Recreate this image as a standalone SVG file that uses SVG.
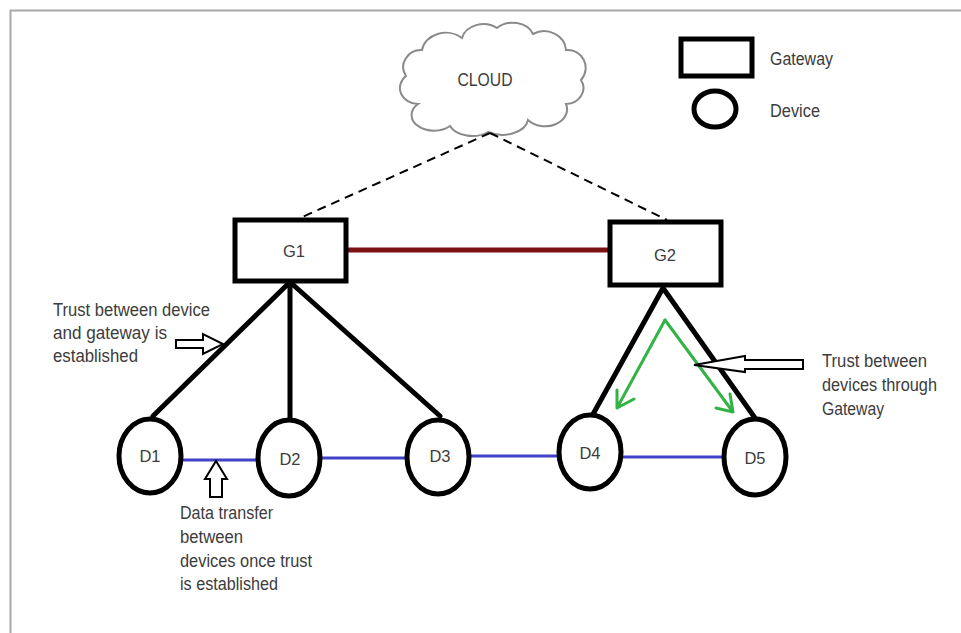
<svg xmlns="http://www.w3.org/2000/svg" width="961" height="633" viewBox="0 0 961 633">
  <style>
    .lbl { font-family: "Liberation Sans", Arial, sans-serif; fill: #3c3c3c; }
    .note { font-size: 17.5px; }
    .node-lbl { font-size: 16.5px; text-anchor: middle; }
    .box { fill: #fff; stroke: #000; stroke-width: 5; }
    .dev { fill: #fff; stroke: #000; stroke-width: 5; }
    .link { stroke: #000; stroke-width: 5; stroke-linecap: round; fill: none; }
    .data { stroke: #4040c8; stroke-width: 3; fill: none; }
    .dash { stroke: #000; stroke-width: 2; stroke-dasharray: 9 6; fill: none; }
    .hollow { fill: #fff; stroke: #000; stroke-width: 2; stroke-linejoin: miter; }
    .green { stroke: #33b345; stroke-width: 3; fill: none; stroke-linecap: round; stroke-linejoin: round; }
  </style>

  <rect x="0" y="0" width="961" height="633" fill="#fff"/>
  <!-- frame -->
  <path d="M10.5 633 V10.5 H961" fill="none" stroke="#a8a8a8" stroke-width="2"/>

  <!-- cloud -->
  <g id="cloud">
    <path d="M418 104 A18 16 0 0 1 406 76 A18 17 0 0 1 422 50 A24 20 0 0 1 462 38 A22 18 0 0 1 497 28 A22 18 0 0 1 533 34 A22 20 0 0 1 566 50 A18 18 0 0 1 581 80 A18 16 0 0 1 566 104 A22 17 0 0 1 528 120 A26 17 0 0 1 488 132 A24 16 0 0 1 450 126 A20 14 0 0 1 418 104 Z" fill="#fff" stroke="#8a8a8a" stroke-width="2"/>
    <text class="lbl" x="485" y="86" font-size="19" text-anchor="middle" textLength="55" lengthAdjust="spacingAndGlyphs">CLOUD</text>
  </g>

  <!-- legend -->
  <g id="legend">
    <rect class="box" x="681" y="39" width="71" height="37" stroke-width="4"/>
    <text class="lbl note" x="770" y="65" textLength="63" lengthAdjust="spacingAndGlyphs">Gateway</text>
    <ellipse class="dev" cx="715" cy="109" rx="21" ry="18" stroke-width="4"/>
    <text class="lbl note" x="770" y="117" textLength="50" lengthAdjust="spacingAndGlyphs">Device</text>
  </g>

  <!-- connectors -->
  <g id="connectors">
    <path class="dash" d="M490 133 L300 218"/>
    <path class="dash" d="M490 133 L667 220"/>
    <path d="M347 250 H610" stroke="#7b1115" stroke-width="5"/>
    <path class="link" d="M290 282 L153 416 M290 282 V419 M290 282 L440 416"/>
    <path class="link" d="M663 288 L592 416 M663 288 L755 418"/>
    <path class="data" d="M182 460 H257 M320 458 H407 M470 456 H558 M622 457 H723"/>
  </g>

  <!-- gateways -->
  <g id="G1">
    <rect class="box" x="235" y="220" width="111" height="61"/>
    <text class="lbl node-lbl" x="294" y="257">G1</text>
  </g>
  <g id="G2">
    <rect class="box" x="610" y="222" width="111" height="63"/>
    <text class="lbl node-lbl" x="665" y="261">G2</text>
  </g>

  <!-- devices -->
  <g id="D1">
    <ellipse class="dev" cx="150" cy="456" rx="31" ry="37"/>
    <text class="lbl node-lbl" x="150" y="462">D1</text>
  </g>
  <g id="D2">
    <ellipse class="dev" cx="289" cy="458" rx="31" ry="38"/>
    <text class="lbl node-lbl" x="290" y="465">D2</text>
  </g>
  <g id="D3">
    <ellipse class="dev" cx="438" cy="457" rx="31" ry="37"/>
    <text class="lbl node-lbl" x="440" y="462">D3</text>
  </g>
  <g id="D4">
    <ellipse class="dev" cx="590" cy="452" rx="31" ry="37"/>
    <text class="lbl node-lbl" x="590" y="459">D4</text>
  </g>
  <g id="D5">
    <ellipse class="dev" cx="755" cy="457" rx="31" ry="38"/>
    <text class="lbl node-lbl" x="755" y="464">D5</text>
  </g>

  <!-- green trust arrows through G2 -->
  <g id="trust-arrows">
    <path class="green" d="M665 320 L617 408 M617 408 L617 390 M617 408 L634 399"/>
    <path class="green" d="M665 320 L733 412 M733 412 L730 394 M733 412 L716 408"/>
  </g>

  <!-- annotation: device-gateway trust -->
  <g id="note-device-gateway">
    <text class="lbl note"><tspan x="53" y="316" textLength="157" lengthAdjust="spacingAndGlyphs">Trust between device</tspan><tspan x="53" y="339" textLength="114" lengthAdjust="spacingAndGlyphs">and gateway is</tspan><tspan x="53" y="362" textLength="85" lengthAdjust="spacingAndGlyphs">established</tspan></text>
    <path class="hollow" d="M176 340 H203 V334 L223 344 L203 354 V348 H176 Z"/>
  </g>

  <!-- annotation: trust through gateway -->
  <g id="note-through-gateway">
    <path class="hollow" d="M803 360 H745 V356 L694 365 L745 372 V369 H803 Z"/>
    <text class="lbl note"><tspan x="822" y="367" textLength="105" lengthAdjust="spacingAndGlyphs">Trust between</tspan><tspan x="822" y="391" textLength="115" lengthAdjust="spacingAndGlyphs">devices through</tspan><tspan x="822" y="415" textLength="62" lengthAdjust="spacingAndGlyphs">Gateway</tspan></text>
  </g>

  <!-- annotation: data transfer -->
  <g id="note-data-transfer">
    <path class="hollow" d="M216 461 L227 479 H222 V497 H210 V479 H205 Z"/>
    <text class="lbl note"><tspan x="180" y="519" textLength="93" lengthAdjust="spacingAndGlyphs">Data transfer</tspan><tspan x="180" y="543" textLength="63" lengthAdjust="spacingAndGlyphs">between</tspan><tspan x="180" y="567" textLength="132" lengthAdjust="spacingAndGlyphs">devices once trust</tspan><tspan x="180" y="590" textLength="98" lengthAdjust="spacingAndGlyphs">is established</tspan></text>
  </g>
</svg>
